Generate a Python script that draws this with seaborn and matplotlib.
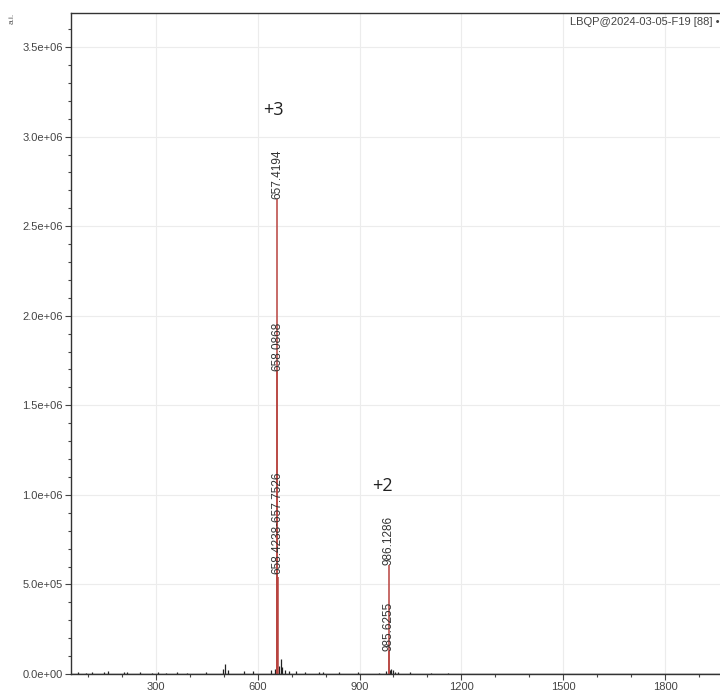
import numpy as np
import pandas as pd
import matplotlib
matplotlib.use("Agg")
import matplotlib.pyplot as plt
import matplotlib.ticker as mticker
import seaborn as sns

# picos principales (m/z, intensidad)
pico_mz = [657.4194, 658.0868, 657.7526, 658.4238, 986.1286, 985.6255]
pico_int = [2.65e6, 1.69e6, 0.56e6, 0.54e6, 0.61e6, 0.13e6]

# etiquetas que se muestran sobre los picos
etiq_mz = [657.4194, 658.0868, 658.4238, 986.1286, 985.6255]
etiq_int = [2.65e6, 1.69e6, 0.56e6, 0.61e6, 0.13e6]
etiq_txt = ["657.4194", "658.0868", "658.4238-657.7526", "986.1286", "985.6255"]

# ruido de fondo (picos negros pequenos)
ruido_mz = [72, 95, 112, 148, 160, 205, 215, 252, 290, 305, 330, 362, 392,
            448, 498, 505, 512, 560, 585, 640, 651, 664, 668, 672, 680, 692,
            712, 738, 782, 792, 840, 895, 958, 978, 990, 994, 1000, 1004,
            1012, 1050, 1110, 1162]
ruido_int = [12e3, 8e3, 10e3, 9e3, 14e3, 12e3, 9e3, 10e3, 8e3, 9e3, 8e3,
             10e3, 7e3, 9e3, 30e3, 55e3, 25e3, 14e3, 15e3, 20e3, 30e3, 45e3,
             85e3, 40e3, 25e3, 18e3, 14e3, 10e3, 12e3, 9e3, 10e3, 9e3, 8e3,
             15e3, 20e3, 30e3, 22e3, 12e3, 10e3, 9e3, 8e3, 7e3]

# anotaciones de estado de carga
carga_txt = ["+3", "+2"]
carga_mz = [617, 938]
carga_int = [3.15e6, 1.05e6]

df_pico = pd.DataFrame({"mz": pico_mz, "int": pico_int})
df_ruido = pd.DataFrame({"mz": ruido_mz, "int": ruido_int})

sns.set_theme(style="ticks")
plt.rcParams["font.family"] = ["Liberation Sans", "DejaVu Sans"]

fig = plt.figure(figsize=(7.2, 6.95), dpi=100)
ax = fig.add_axes([71 / 720, 21 / 695, 1 - 71 / 720, 661 / 695])

# linea base del espectro
sns.lineplot(x=[50, 1962], y=[0, 0], color="#333333", lw=1, ax=ax)
ax.vlines(df_ruido["mz"], 0, df_ruido["int"], color="#222222", lw=0.9)
ax.vlines(df_pico["mz"], 0, df_pico["int"], color="#b8433f", lw=1.1)

for mz, h, t in zip(etiq_mz, etiq_int, etiq_txt):
    ax.text(mz, h, t, rotation=90, ha="center", va="bottom", fontsize=8.5,
            color="#333333")

for t, mz, h in zip(carga_txt, carga_mz, carga_int):
    ax.text(mz, h, t, ha="left", va="center", fontsize=13, color="#222222",
            family=["Open Sans", "DejaVu Sans"])

ax.set_xlim(50, 1962)
ax.set_ylim(0, 3.69e6)
ax.xaxis.set_major_locator(mticker.MultipleLocator(300))
ax.xaxis.set_minor_locator(mticker.MultipleLocator(100))
ax.yaxis.set_major_locator(mticker.MultipleLocator(5e5))
ax.yaxis.set_minor_locator(mticker.MultipleLocator(1e5))
ax.yaxis.set_major_formatter(mticker.FormatStrFormatter("%.1e"))
ax.tick_params(axis="both", which="major", labelsize=8, labelcolor="#444444",
               length=4, width=0.8, color="#444444", pad=2)
ax.tick_params(axis="both", which="minor", length=2.5, width=0.8,
               color="#444444")
ax.grid(True, which="major", color="#ececec", lw=0.8)
ax.set_axisbelow(True)
for s in ["left", "bottom", "top"]:
    ax.spines[s].set_color("#333333")
    ax.spines[s].set_linewidth(1)
ax.spines["right"].set_visible(False)
ax.set_xlabel("")
ax.set_ylabel("")

fig.text(12 / 720, 1 - 18 / 695, "a.i.", rotation=90, ha="center",
         va="center", fontsize=6, color="#555555")
fig.text(1.0, 1 - 22 / 695, "LBQP@2024-03-05-F19 [88] \u2022", ha="right",
         va="center", fontsize=8, color="#444444")

fig.savefig("out.png", dpi=100)
